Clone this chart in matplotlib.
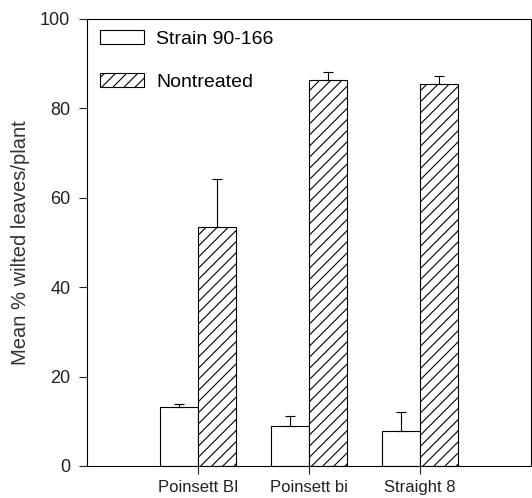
import matplotlib
matplotlib.use('Agg')
import matplotlib.pyplot as plt
import numpy as np

plt.rcParams['font.family'] = ['Liberation Sans', 'DejaVu Sans']
plt.rcParams['hatch.linewidth'] = 0.8

# cultivars and mean % wilted leaves per plant
cultivars = ['Poinsett BI', 'Poinsett bi', 'Straight 8']
strain_mean = [13.2, 9.0, 7.8]
strain_err = [0.7, 2.2, 4.3]
nontreated_mean = [53.5, 86.4, 85.5]
nontreated_err = [10.6, 1.7, 1.8]

fig = plt.figure(figsize=(5.32, 4.98), dpi=100)
ax = fig.add_axes([0.1635, 0.0643, 0.8346, 0.8976])

x = np.arange(len(cultivars))
w = 0.34

ax.bar(x - w / 2, strain_mean, w, yerr=[np.zeros(3), strain_err],
       color='white', edgecolor='black', linewidth=0.8,
       error_kw=dict(ecolor='black', elinewidth=0.8, capsize=3.5, capthick=0.8),
       label='Strain 90-166')
ax.bar(x + w / 2, nontreated_mean, w, yerr=[np.zeros(3), nontreated_err],
       color='white', edgecolor='black', linewidth=0.8, hatch='///',
       error_kw=dict(ecolor='black', elinewidth=0.8, capsize=3.5, capthick=0.8),
       label='Nontreated')

ax.set_xlim(-1, 3)
ax.set_ylim(0, 100)
ax.set_yticks([0, 20, 40, 60, 80, 100])
ax.set_xticks(x)
ax.set_xticklabels(cultivars)
ax.tick_params(axis='both', direction='out', length=6, width=0.8,
               colors='#222222')
ax.tick_params(axis='x', pad=4, labelsize=12)
ax.tick_params(axis='y', pad=6, labelsize=13)
for s in ax.spines.values():
    s.set_linewidth(0.8)

ax.set_ylabel('Mean % wilted leaves/plant', fontsize=14.5, color='#333333', labelpad=7)

ax.legend(loc='upper left', bbox_to_anchor=(0.02, 0.985), frameon=False,
          fontsize=14, handlelength=2.3, handleheight=0.77, labelspacing=1.3,
          handletextpad=0.6, borderaxespad=0, borderpad=0.2)

fig.savefig('out.png', dpi=100)
